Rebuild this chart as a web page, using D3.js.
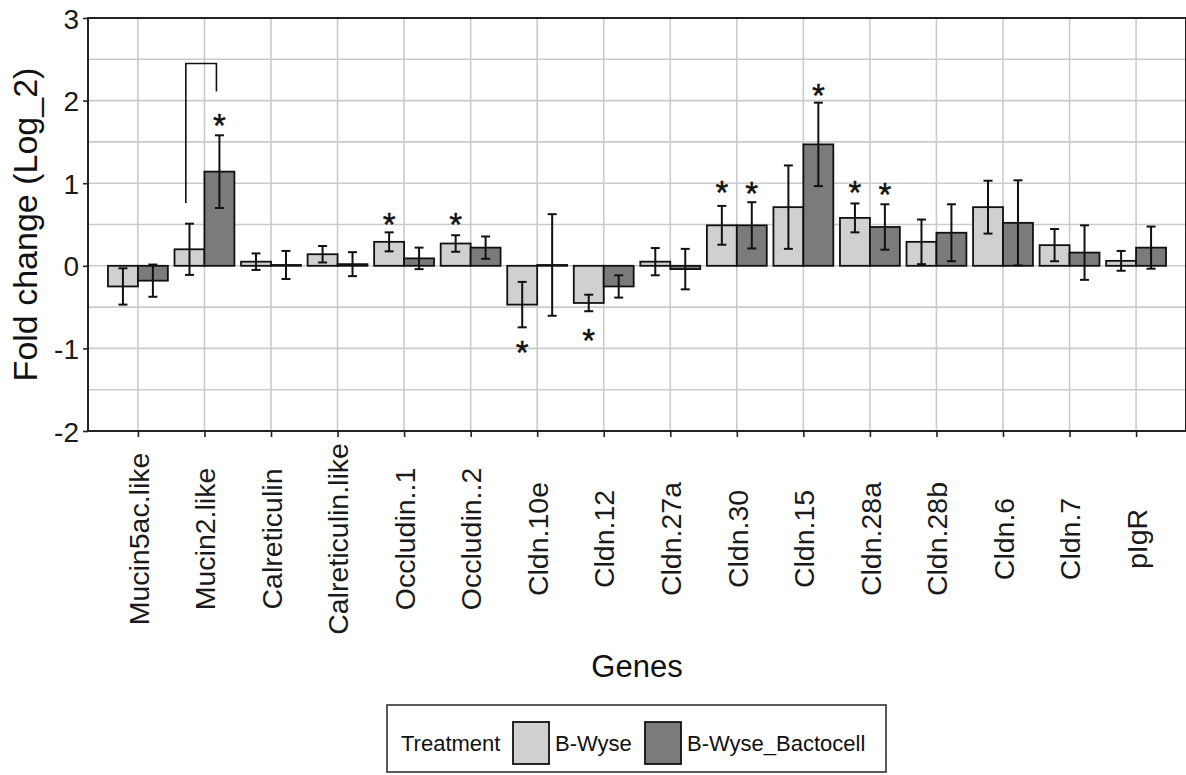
<!DOCTYPE html>
<html>
<head>
<meta charset="utf-8">
<script src="https://cdn.jsdelivr.net/npm/d3@7"></script>
<style>
  html, body { margin: 0; padding: 0; background: #fff; }
  svg { display: block; font-family: "Liberation Sans", Arial, sans-serif; }
</style>
</head>
<body>
<svg id="chart" width="1186" height="775"></svg>
<script>
const genes = ["Mucin5ac.like","Mucin2.like","Calreticulin","Calreticulin.like","Occludin..1","Occludin..2",
  "Cldn.10e","Cldn.12","Cldn.27a","Cldn.30","Cldn.15","Cldn.28a","Cldn.28b","Cldn.6","Cldn.7","pIgR"];
const series = ["B-Wyse", "B-Wyse_Bactocell"];
const bwyse   = [-0.25, 0.20, 0.05, 0.14, 0.29, 0.27, -0.47, -0.45, 0.05, 0.49, 0.71, 0.58, 0.29, 0.71, 0.25, 0.06];
const bwyseSE = [ 0.22, 0.31, 0.10, 0.10, 0.115, 0.10, 0.275, 0.10, 0.165, 0.235, 0.505, 0.175, 0.27, 0.32, 0.195, 0.12];
const bact    = [-0.18, 1.14, 0.01, 0.02, 0.09, 0.22, 0.01, -0.25, -0.04, 0.49, 1.47, 0.47, 0.40, 0.52, 0.16, 0.22];
const bactSE  = [ 0.195, 0.44, 0.17, 0.145, 0.13, 0.135, 0.615, 0.135, 0.245, 0.28, 0.505, 0.275, 0.345, 0.515, 0.33, 0.255];
// significance asterisks: gene, series index, y position
const starGene   = ["Mucin2.like","Occludin..1","Occludin..2","Cldn.10e","Cldn.12","Cldn.30","Cldn.30","Cldn.15","Cldn.28a","Cldn.28a"];
const starSeries = [1, 0, 0, 0, 0, 0, 1, 1, 0, 1];
const starY      = [1.79, 0.59, 0.59, -0.96, -0.81, 0.98, 0.97, 2.15, 0.98, 0.96];
// bracket on Mucin2.like: left leg bottom, top, right leg bottom
const bracketY = [0.76, 2.45, 2.11];
const yTicks = [-2, -1, 0, 1, 2, 3];
const colors = ["#d0d0d0", "#7b7b7b"];

const svg = d3.select("#chart");
svg.append("rect").attr("width", 1186).attr("height", 775).attr("fill", "#fff");

const L = 88, R = 1186, T = 18, B = 431;
const x = d3.scaleLinear().domain([0.25, genes.length + 0.75]).range([L, R]);
const gx = d => x(genes.indexOf(d) + 1);
const step = x(2) - x(1);
const y = d3.scaleLinear().domain([-2, 3]).range([B, T]);
const dodge = d3.scaleBand().domain([0, 1]).range([-0.45 * step, 0.45 * step]).padding(0);
const bw = dodge.bandwidth();

// grid
const grid = svg.append("g");
grid.selectAll("line.h").data(d3.range(-2, 3.01, 0.5)).join("line")
  .attr("x1", L).attr("x2", R).attr("y1", d => y(d)).attr("y2", d => y(d))
  .attr("stroke", "#cbcbcb").attr("stroke-width", 1.6);
grid.selectAll("line.v").data(genes).join("line")
  .attr("x1", gx).attr("x2", gx).attr("y1", T).attr("y2", B)
  .attr("stroke", "#cbcbcb").attr("stroke-width", 1.6);

// data rows
const rows = [];
genes.forEach((g, i) => {
  rows.push({g, s: 0, v: bwyse[i], se: bwyseSE[i]});
  rows.push({g, s: 1, v: bact[i], se: bactSE[i]});
});

svg.append("g").selectAll("rect").data(rows).join("rect")
  .attr("x", d => gx(d.g) + dodge(d.s))
  .attr("width", bw)
  .attr("y", d => y(Math.max(0, d.v)))
  .attr("height", d => Math.abs(y(d.v) - y(0)))
  .attr("fill", d => colors[d.s])
  .attr("stroke", "#111").attr("stroke-width", 1.8);

// error bars
const cap = 4.5;
const eb = svg.append("g").attr("stroke", "#111").attr("stroke-width", 2);
rows.forEach(d => {
  const cx = gx(d.g) + dodge(d.s) + bw / 2;
  eb.append("line").attr("x1", cx).attr("x2", cx).attr("y1", y(d.v + d.se)).attr("y2", y(d.v - d.se));
  eb.append("line").attr("x1", cx - cap).attr("x2", cx + cap).attr("y1", y(d.v + d.se)).attr("y2", y(d.v + d.se));
  eb.append("line").attr("x1", cx - cap).attr("x2", cx + cap).attr("y1", y(d.v - d.se)).attr("y2", y(d.v - d.se));
});

// asterisks
svg.append("g").selectAll("text").data(starGene).join("text")
  .attr("x", (d, i) => gx(d) + dodge(starSeries[i]) + bw / 2)
  .attr("y", (d, i) => y(starY[i]) + 19)
  .attr("text-anchor", "middle").attr("font-size", 33).attr("fill", "#111")
  .attr("stroke", "#111").attr("stroke-width", 0.4)
  .text("*");

// bracket
const bx0 = x(2 - 0.28), bx1 = x(2 + 0.18);
svg.append("path")
  .attr("d", `M${bx0},${y(bracketY[0])}V${y(bracketY[1])}H${bx1}V${y(bracketY[2])}`)
  .attr("fill", "none").attr("stroke", "#111").attr("stroke-width", 1.6);

// panel border
svg.append("rect").attr("x", L).attr("y", T).attr("width", R - L).attr("height", B - T)
  .attr("fill", "none").attr("stroke", "#222").attr("stroke-width", 2);

// y axis
const yAxis = svg.append("g").attr("transform", `translate(${L},0)`)
  .call(d3.axisLeft(y).tickValues(yTicks).tickFormat(d => String(d)).tickSize(5).tickPadding(4));
yAxis.select(".domain").remove();
yAxis.selectAll(".tick line").attr("stroke", "#222").attr("stroke-width", 1.6);
yAxis.selectAll(".tick text").attr("font-size", 28).attr("fill", "#1a1a1a")
  .attr("font-family", "Liberation Sans, Arial, sans-serif").attr("dy", "0.36em");

// x axis
const xAxis = svg.append("g").attr("transform", `translate(0,${B})`)
  .call(d3.axisBottom(x).tickValues(d3.range(1, genes.length + 1)).tickFormat(i => genes[i - 1]).tickSize(6));
xAxis.select(".domain").remove();
xAxis.selectAll(".tick line").attr("stroke", "#222").attr("stroke-width", 1.6);
xAxis.selectAll(".tick text")
  .attr("font-size", 28.5).attr("fill", "#1a1a1a").attr("font-family", "Liberation Sans, Arial, sans-serif")
  .attr("transform", `translate(0,${539 - B}) rotate(-90)`)
  .attr("x", 0).attr("y", 0).attr("dy", "0.36em")
  .attr("text-anchor", "middle");

// axis titles
svg.append("text").attr("x", (L + R) / 2).attr("y", 677).attr("text-anchor", "middle")
  .attr("font-size", 31).attr("fill", "#111").text("Genes");
svg.append("text").attr("transform", `translate(37,${(T + B) / 2}) rotate(-90)`)
  .attr("text-anchor", "middle").attr("font-size", 34).attr("fill", "#111").text("Fold change (Log_2)");

// legend
const lg = svg.append("g");
lg.append("rect").attr("x", 387).attr("y", 705).attr("width", 499).attr("height", 67)
  .attr("fill", "#fff").attr("stroke", "#333").attr("stroke-width", 1.6);
lg.append("text").attr("x", 401).attr("y", 751).attr("font-size", 22).attr("fill", "#111").text("Treatment");
const keyX = [513, 645];
const labX = [555, 687];
series.forEach((s, i) => {
  lg.append("rect").attr("x", keyX[i]).attr("y", 722).attr("width", 36).attr("height", 42)
    .attr("fill", colors[i]).attr("stroke", "#111").attr("stroke-width", 1.8);
  lg.append("text").attr("x", labX[i]).attr("y", 751).attr("font-size", 22).attr("fill", "#111").text(s);
});
</script>
</body>
</html>
